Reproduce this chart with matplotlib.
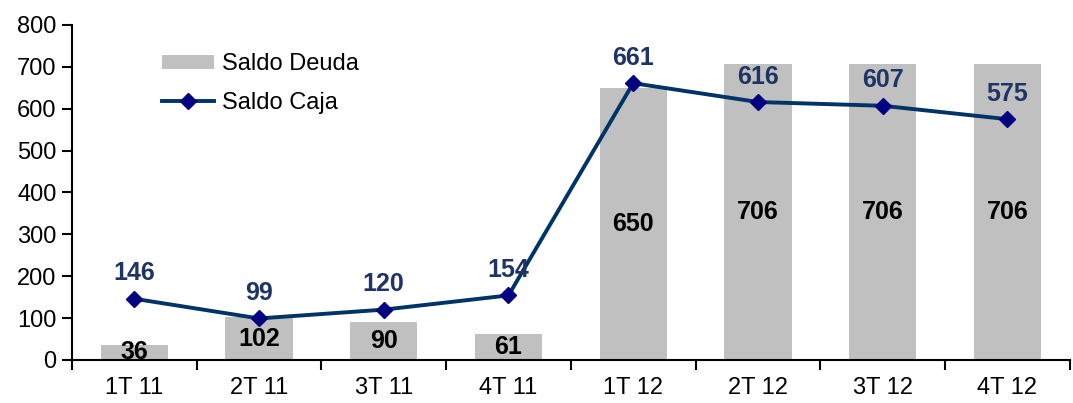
import numpy as np
import matplotlib.pyplot as plt

plt.rcParams['font.family'] = ['Liberation Sans', 'DejaVu Sans']

# data
quarters = ['1T 11', '2T 11', '3T 11', '4T 11', '1T 12', '2T 12', '3T 12', '4T 12']
saldo_deuda = [36, 102, 90, 61, 650, 706, 706, 706]
saldo_caja = [146, 99, 120, 154, 661, 616, 607, 575]

fig = plt.figure(figsize=(10.73, 4.03), dpi=100)
ax = fig.add_axes([0.067, 0.107, 0.930, 0.831])

x = np.arange(len(quarters))
bars = ax.bar(x, saldo_deuda, width=0.54, color='#C0C0C0', label='Saldo Deuda', zorder=1)
line, = ax.plot(x, saldo_caja, color='#003366', linewidth=2.8, marker='D', markersize=8,
                markerfacecolor='#000080', markeredgecolor='#000080', label='Saldo Caja', zorder=3)

# labels on bars (centered) and above the line points
for xi, v in zip(x, saldo_deuda):
    ax.text(xi, v / 2, str(v), ha='center', va='center', fontsize=18,
            fontweight='bold', color='black', zorder=4)
for xi, v in zip(x, saldo_caja):
    ax.text(xi, v + 32, str(v), ha='center', va='bottom', fontsize=18,
            fontweight='bold', color='#1F3466', zorder=4)

ax.set_xlim(-0.5, len(quarters) - 0.5)
ax.set_ylim(0, 800)
ax.set_yticks(np.arange(0, 801, 100))
ax.set_xticks(x)
ax.set_xticklabels(quarters)
ax.set_xticks(np.arange(-0.5, len(quarters), 1.0), minor=True)
ax.tick_params(axis='x', which='major', length=0, pad=12, labelsize=17)
ax.tick_params(axis='x', which='minor', length=7, width=1.5, direction='out')
ax.tick_params(axis='y', length=7, width=1.5, direction='out', labelsize=17, pad=4)

for s in ['top', 'right']:
    ax.spines[s].set_visible(False)
ax.spines['left'].set_linewidth(1.5)
ax.spines['bottom'].set_linewidth(1.5)

ax.legend([bars, line], ['Saldo Deuda', 'Saldo Caja'], loc='upper left',
          bbox_to_anchor=(0.09, 0.915), frameon=False, fontsize=17,
          borderaxespad=0, borderpad=0, handleheight=0.5,
          handlelength=2.2, handletextpad=0.35, labelspacing=0.7)

fig.savefig('out.png', dpi=100)
